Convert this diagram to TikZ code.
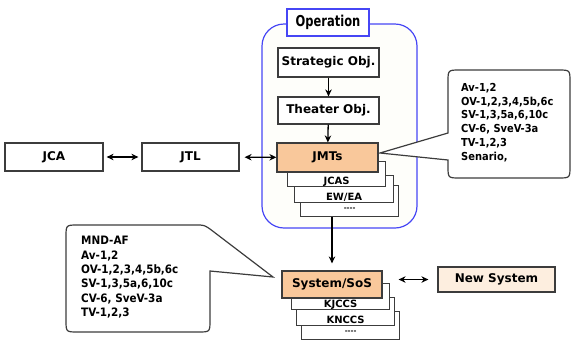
\documentclass[tikz,border=0pt]{standalone}
\usepackage{fontspec}
\setmainfont{DejaVu Sans}
\newfontfamily\condfont{DejaVu Sans Condensed}
\newfontfamily\narrowfont[FakeStretch=0.85]{DejaVu Sans Condensed}
\usetikzlibrary{arrows.meta}

\definecolor{boxline}{HTML}{3C3C3C}
\definecolor{opblue}{HTML}{4646F5}
\definecolor{opfill}{HTML}{FEFEFA}
\definecolor{jmtfill}{HTML}{F9C89B}
\definecolor{newfill}{HTML}{FDEEDF}

\tikzset{
  box/.style={draw=boxline,line width=1.2pt,fill=white,inner sep=0pt,
    font=\bfseries\fontsize{12}{14}\selectfont},
  stackbox/.style={draw=boxline,line width=1.2pt,fill=white,inner xsep=0pt,
    inner ysep=1.5pt,text depth=0pt,minimum width=98pt,anchor=south west,
    font=\bfseries\fontsize{10}{11}\selectfont},
  link/.style={line width=1.3pt,-{Stealth[length=7pt,width=6.5pt]}},
  twoway/.style={line width=1.3pt,{Stealth[length=7pt,width=6.5pt]}-{Stealth[length=7pt,width=6.5pt]}},
  bubble/.style={draw=boxline,line width=1.2pt,fill=white},
  note/.style={align=left,inner sep=0pt,anchor=north west},
}

\begin{document}
\begin{tikzpicture}[x=1pt,y=-1pt]
\useasboundingbox (0,0) rectangle (571,341);

% operation frame
\draw[opblue,line width=1.2pt,fill=opfill,rounded corners=22pt] (262,24) rectangle (417,228);
\node[box,draw=opblue,minimum width=82pt,minimum height=27pt,
  font=\narrowfont\bfseries\fontsize{15}{17}\selectfont] (Op) at (328,22.5) {Operation};

\begin{scope}[every node/.style={box,minimum width=101pt}]
  \node[minimum height=29pt] (Strat) at (328.5,62.5) {Strategic Obj.};
  \node[minimum height=27pt] (Theat) at (328.5,110.5) {Theater Obj.};
\end{scope}

% JMTs stack (back to front)
\node[stackbox,text height=24pt,text depth=4pt,font=\bfseries\fontsize{7}{8}\selectfont] (jdots) at (300,217) {-{}-{}-{}-};
\node[stackbox,minimum width=99pt,text height=24pt] (EW) at (294,203) {EW/EA};
\node[stackbox,text height=22pt] (JCAS) at (287,187) {JCAS};
\node[box,fill=jmtfill,minimum width=101pt,minimum height=29pt] (JMT) at (327.5,157.5) {JMTs};

% System stack (back to front)
\node[stackbox,text height=21pt,text depth=4pt,font=\bfseries\fontsize{7}{8}\selectfont] (sdots) at (301,340) {-{}-{}-{}-};
\node[stackbox,text height=25pt] (KN) at (296,326) {KNCCS};
\node[stackbox,text height=23pt] (KJ) at (291,310) {KJCCS};
\node[box,fill=jmtfill,minimum width=100pt,minimum height=27pt] (Sys) at (332,284.5) {System/SoS};

\node[box,fill=newfill,minimum width=117pt,minimum height=25pt] (New) at (496.5,279.5) {New System};

\begin{scope}[every node/.style={box,minimum height=28pt}]
  \node[minimum width=98pt] (JCA) at (54,157) {JCA};
  \node[minimum width=97pt] (JTL) at (190.5,157) {JTL};
\end{scope}

% arrows
\draw[link] (Strat) -- (Theat);
\draw[link] (Theat) -- (JMT);
\draw[link,line width=1.6pt,shorten >=7pt] (jdots.south -| Sys.north) -- (Sys.north);
\draw[twoway,shorten <=3pt,shorten >=3pt] (JCA) -- (JTL);
\draw[twoway,shorten <=5pt] (JTL) -- (JMT);
\draw[twoway,shorten <=16pt,shorten >=9pt] (Sys.east |- New.west) -- (New.west);

% callouts
\coordinate (tipA) at (380,153);
\coordinate (tipB) at (273,277);
\draw[bubble] (448,133) -- (448,82) .. controls (448,70) .. (460,70) -- (558,70)
  .. controls (570,70) .. (570,82) -- (570,166) .. controls (570,178) .. (558,178)
  -- (460,178) .. controls (448,178) .. (448,166) -- (448,160) -- (tipA) -- cycle;
\draw[bubble] (210,271) -- (210,320) .. controls (210,332) .. (198,332) -- (78,332)
  .. controls (66,332) .. (66,320) -- (66,237) .. controls (66,225) .. (78,225)
  -- (196,225) .. controls (204,225) .. (210,229) -- (tipB) -- cycle;

\node[note,font=\condfont\bfseries\fontsize{11}{13.8}\selectfont] (NoteA) at (461,83)
  {Av-1,2\\OV-1,2,3,4,5b,6c\\SV-1,3,5a,6,10c\\CV-6, SveV-3a\\TV-1,2,3\\Senario,};
\node[note,font=\condfont\bfseries\fontsize{11.6}{14.4}\selectfont] (NoteB) at (81,236)
  {MND-AF\\Av-1,2\\OV-1,2,3,4,5b,6c\\SV-1,3,5a,6,10c\\CV-6, SveV-3a\\TV-1,2,3};
\end{tikzpicture}
\end{document}
